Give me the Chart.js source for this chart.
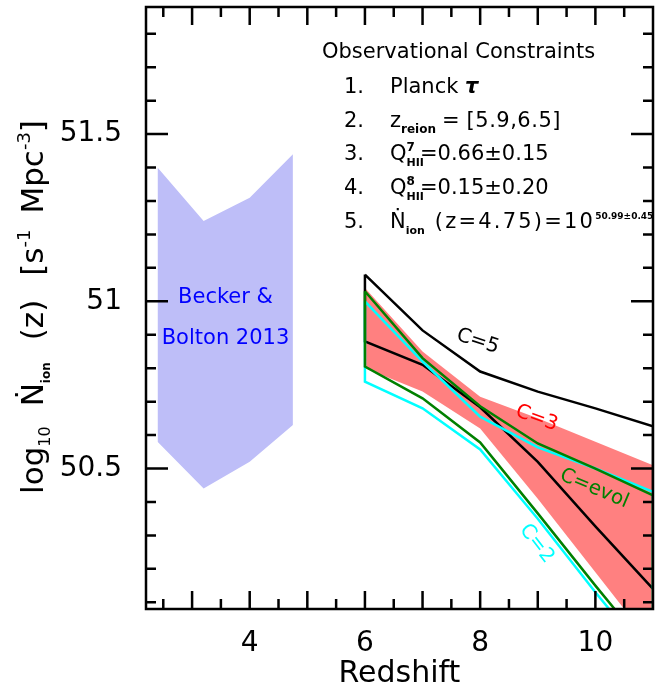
<!DOCTYPE html>
<html><head><meta charset="utf-8">
<script src="https://cdn.jsdelivr.net/npm/chart.js@4.4.0/dist/chart.umd.min.js"></script>
<style>html,body{margin:0;padding:0;background:#fff}</style>
</head><body>
<canvas id="c" width="655" height="687"></canvas>
<script>
// model redshifts and bands
const redshift = [6, 7, 8, 9, 10, 11];
const c5Upper = [51.08, 50.913, 50.79, 50.73, 50.68, 50.626];
const c5Lower = [50.88, 50.81, 50.683, 50.52, 50.327, 50.14];
const c3Upper = [51.04, 50.85, 50.715, 50.65, 50.58, 50.51];
const c3Lower = [50.80, 50.73, 50.62, 50.41, 50.19, 49.97];
const c2Upper = [51.0, 50.82, 50.655, 50.563, 50.5, 50.43];
const c2Lower = [50.76, 50.68, 50.557, 50.35, 50.13, 49.92];
const cevolUpper = [51.03, 50.83, 50.686, 50.575, 50.5, 50.42];
const cevolLower = [50.805, 50.71, 50.578, 50.366, 50.15, 49.94];
// Becker & Bolton 2013
const bbRedshift = [2.4, 3.2, 4.0, 4.75];
const bbUpper = [51.40, 51.24, 51.31, 51.44];
const bbLower = [50.58, 50.44, 50.52, 50.63];
// ticks
const xTickLabels = [4, 6, 8, 10];
const xMajorTicks = [3, 4, 5, 6, 7, 8, 9, 10];
const xMinorTicks = [2.5, 3.5, 4.5, 5.5, 6.5, 7.5, 8.5, 9.5, 10.5];
const yTickLabels = [50.5, 51, 51.5];
const yMinorTicks = [50.1, 50.2, 50.3, 50.4, 50.6, 50.7, 50.8, 50.9, 51.1, 51.2, 51.3, 51.4, 51.6, 51.7, 51.8];

const FONT = '"DejaVu Sans"';
const pts = (xs, ys) => xs.map((x, i) => ({x, y: ys[i]}));
function outline(up, lo){
  const p = pts(redshift, up);
  for (let i = redshift.length - 1; i >= 0; i--) p.push({x: redshift[i], y: lo[i]});
  p.push(p[0]);
  return p;
}

function setFont(ctx, p){
  ctx.font = (p.w || '') + ' ' + p.s + 'px ' + FONT;
  ctx.letterSpacing = p.ls || '0px';
}
function drawRich(ctx, parts, x, y){
  let cx = x;
  parts.forEach(p => {
    if (p.gap !== undefined) { cx += p.gap; return; }
    setFont(ctx, p);
    ctx.fillText(p.t, cx, y + (p.dy || 0));
    if (!p.stay) cx += ctx.measureText(p.t).width;
  });
  ctx.letterSpacing = '0px';
  return cx - x;
}
function richWidth(ctx, parts){
  let w = 0;
  parts.forEach(p => {
    if (p.gap !== undefined) { w += p.gap; return; }
    setFont(ctx, p);
    if (!p.stay) w += ctx.measureText(p.t).width;
  });
  ctx.letterSpacing = '0px';
  return w;
}

const framePlugin = {
  id: 'frame',
  afterDraw(chart){
    const {ctx, chartArea: a, scales: {x, y}} = chart;
    ctx.save();
    ctx.strokeStyle = '#000'; ctx.fillStyle = '#000';
    ctx.lineWidth = 2.5;
    ctx.strokeRect(a.left, a.top, a.right - a.left, a.bottom - a.top);
    ctx.beginPath();
    const xt = (v, len) => { const px = x.getPixelForValue(v);
      ctx.moveTo(px, a.bottom); ctx.lineTo(px, a.bottom - len);
      ctx.moveTo(px, a.top); ctx.lineTo(px, a.top + len); };
    const yt = (v, len) => { const py = y.getPixelForValue(v);
      ctx.moveTo(a.left, py); ctx.lineTo(a.left + len, py);
      ctx.moveTo(a.right, py); ctx.lineTo(a.right - len, py); };
    xMajorTicks.forEach(v => xt(v, 18));
    xMinorTicks.forEach(v => xt(v, 10));
    yTickLabels.forEach(v => yt(v, 22));
    yMinorTicks.forEach(v => yt(v, 10));
    ctx.stroke();

    // axis titles
    ctx.textBaseline = 'alphabetic';
    ctx.textAlign = 'center';
    ctx.font = '30px ' + FONT;
    ctx.fillText('Redshift', (a.left + a.right) / 2, 682);
    ctx.textAlign = 'left';
    const yTitle = [
      {t: 'log', s: 31}, {t: '10', s: 16, dy: 7}, {gap: 20},
      {t: '\u1E44', s: 31}, {t: 'ion', s: 12, w: 'bold', dy: 7}, {gap: 22},
      {t: '(z)', s: 31}, {gap: 24},
      {t: '[s', s: 31}, {t: '-1', s: 18, dy: -13}, {gap: 16},
      {t: 'Mpc', s: 31}, {t: '-3', s: 18, dy: -13}, {t: ']', s: 31}
    ];
    ctx.save();
    ctx.translate(43, 307);
    ctx.rotate(-Math.PI / 2);
    drawRich(ctx, yTitle, -richWidth(ctx, yTitle) / 2, 0);
    ctx.restore();

    // constraints box
    ctx.font = '21px ' + FONT;
    ctx.fillText('Observational Constraints', 322, 58);
    const rows = [
      [{t: 'Planck ', s: 21}, {t: '\u03C4', s: 21, w: 'italic bold'}],
      [{t: 'z', s: 21}, {t: 'reion', s: 12, w: 'bold', dy: 6}, {gap: 6}, {t: '=', s: 21}, {gap: 7}, {t: '[5.9,6.5]', s: 21, ls: '0.5px'}],
      [{t: 'Q', s: 21}, {t: '7', s: 12, w: 'bold', dy: -9, stay: true}, {t: 'HII', s: 11, w: 'bold', dy: 6}, {gap: -4}, {t: '=0.66\u00B10.15', s: 21}],
      [{t: 'Q', s: 21}, {t: '8', s: 12, w: 'bold', dy: -9, stay: true}, {t: 'HII', s: 11, w: 'bold', dy: 6}, {gap: -4}, {t: '=0.15\u00B10.20', s: 21}],
      [{t: '\u1E44', s: 21}, {t: 'ion', s: 11, w: 'bold', dy: 6}, {gap: 10}, {t: '(z=4.75)=10', s: 21, ls: '2.2px'}, {t: '50.99\u00B10.45', s: 9, w: 'bold', dy: -9}]
    ];
    rows.forEach((r, i) => {
      const by = 93 + i * 33.7;
      ctx.font = '21px ' + FONT;
      ctx.fillText((i + 1) + '.', 344, by);
      drawRich(ctx, r, 390, by);
    });

    // curve labels
    ctx.textAlign = 'center'; ctx.textBaseline = 'middle';
    const lab = (t, vx, vy, deg, col, size) => {
      ctx.save();
      ctx.translate(x.getPixelForValue(vx), y.getPixelForValue(vy));
      ctx.rotate(deg * Math.PI / 180);
      ctx.fillStyle = col; ctx.font = size + 'px ' + FONT;
      ctx.fillText(t, 0, 0);
      ctx.restore();
    };
    lab('C=5', 7.96, 50.88, 18, '#000', 20);
    lab('C=3', 8.98, 50.65, 20, '#ff0000', 20);
    lab('C=evol', 9.98, 50.44, 23, '#007f00', 20);
    lab('C=2', 8.98, 50.275, 52, '#00ffff', 20);
    lab('Becker &', 3.58, 51.01, 0, '#0000ff', 21);
    lab('Bolton 2013', 3.58, 50.89, 0, '#0000ff', 21);
    ctx.restore();
  }
};

const line = (data, color, order) => ({data, borderColor: color, borderWidth: 2.5, fill: false, order});
const band = (data, color, fill, order) => ({data, borderWidth: 0, borderColor: 'rgba(0,0,0,0)', backgroundColor: color, fill, order});
const noPad = s => { s.paddingTop = 0; s.paddingBottom = 0; s.paddingLeft = 0; s.paddingRight = 0; };

new Chart(document.getElementById('c'), {
  type: 'line',
  data: { datasets: [
    band(pts(bbRedshift, bbUpper), 'rgb(190,190,248)', '+1', 6),
    band(pts(bbRedshift, bbLower), 'rgb(190,190,248)', false, 7),
    band(pts(redshift, c3Upper), 'rgb(255,128,128)', '+1', 4),
    band(pts(redshift, c3Lower), 'rgb(255,128,128)', false, 5),
    line(outline(c5Upper, c5Lower), '#000000', 2),
    line(outline(c2Upper, c2Lower), '#00ffff', 1),
    line(outline(cevolUpper, cevolLower), '#008000', 0)
  ]},
  options: {
    responsive: false, animation: false, devicePixelRatio: 1,
    layout: {padding: {top: 7, right: 2, left: 0, bottom: 0}},
    plugins: {legend: {display: false}, tooltip: {enabled: false}},
    elements: {point: {radius: 0}, line: {tension: 0}},
    scales: {
      x: {type: 'linear', min: 2.2, max: 11, grid: {display: false}, border: {display: false},
        afterBuildTicks: s => { s.ticks = xTickLabels.map(v => ({value: v})); },
        afterFit: s => { s.height = 78; noPad(s); },
        ticks: {font: {family: 'DejaVu Sans', size: 28}, color: '#000', padding: 10, maxRotation: 0, autoSkip: false,
          callback: v => String(v)}},
      y: {type: 'linear', min: 50.08, max: 51.88, grid: {display: false}, border: {display: false},
        afterBuildTicks: s => { s.ticks = yTickLabels.map(v => ({value: v})); },
        afterFit: s => { s.width = 146; noPad(s); },
        ticks: {font: {family: 'DejaVu Sans', size: 28}, color: '#000', padding: 16, autoSkip: false,
          callback: v => String(v)}}
    }
  },
  plugins: [framePlugin]
});
</script>
</body></html>
